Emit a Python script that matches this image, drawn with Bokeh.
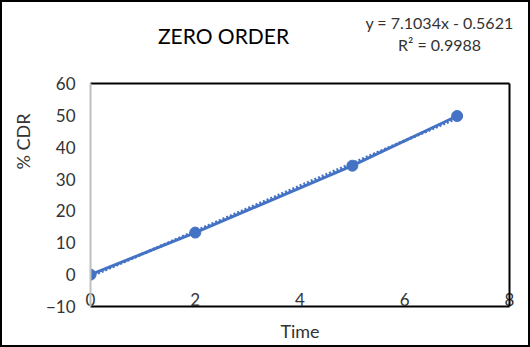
import numpy as np
from bokeh.plotting import figure
from bokeh.layouts import column, row
from bokeh.models import LinearAxis, Range1d, FixedTicker
from bokeh.core.properties import value
from bokeh.embed import file_html
from bokeh.resources import INLINE

# ---- data ----
time_vals = [0, 2, 5, 7]
cdr_vals = [0, 13.2, 34.2, 49.8]
x_ticks = [0, 2, 4, 6, 8]
y_ticks = [-10, 0, 10, 20, 30, 40, 50, 60]
chart_title = "ZERO ORDER"
x_title = "Time"
y_title = "% CDR"
eq_text = "y = 7.1034x - 0.5621"
r2_text = "R² = 0.9988"

BLUE = "#4472C4"
FONT = "Lato"
TXT = "#333333"

W, H = 526, 343
STRIP_W = 40
HEAD_H = 60
SPLIT = 330                   # canvas x where title box ends and equation box starts
RW = W - STRIP_W
MAIN_H = H - HEAD_H
FRAME_L, FRAME_R = 87, 507    # plot-area edges in canvas pixels


def blank(width, height, xr, yr):
    f = figure(width=width, height=height, x_range=xr, y_range=yr,
               output_backend="svg", toolbar_location=None,
               x_axis_location=None, y_axis_location=None, min_border=0)
    f.grid.visible = False
    f.outline_line_color = None
    f.border_fill_color = "white"
    return f


# ---- left strip with the value-axis title (pixel-space ranges) ----
strip = blank(STRIP_W, H, Range1d(0, STRIP_W), Range1d(H, 0))
strip.text(x=[20], y=[139], text=[y_title], angle=np.pi / 2, text_font=value(FONT),
           text_font_size="18px", text_color=TXT, text_align="center", text_baseline="middle")

# ---- header: chart title box + trendline-label box (pixel-space ranges) ----
tbox = blank(SPLIT - STRIP_W, HEAD_H, Range1d(STRIP_W, SPLIT), Range1d(HEAD_H, 0))
tbox.text(x=[221], y=[33], text=[chart_title], text_font=value(FONT), text_font_size="21px",
          text_color="black", text_align="center", text_baseline="middle")
ebox = blank(W - SPLIT, HEAD_H, Range1d(SPLIT, W), Range1d(HEAD_H, 0))
ebox.text(x=[437, 437], y=[20, 42], text=[eq_text, r2_text], text_font=value(FONT),
          text_font_size="16px", text_color=TXT, text_align="center", text_baseline="middle")
head = row(tbox, ebox, spacing=0)

# ---- main plot ----
p = figure(width=RW, height=MAIN_H, x_range=Range1d(0, 8), y_range=Range1d(-10, 60),
           output_backend="svg", toolbar_location=None,
           x_axis_location=None, y_axis_location=None,
           min_border_left=FRAME_L - STRIP_W, min_border_right=W - FRAME_R,
           min_border_top=81 - HEAD_H, min_border_bottom=39)
p.grid.visible = False
p.outline_line_color = None
p.background_fill_color = "white"
p.border_fill_color = "white"

# left (value) axis, gray line
ya = LinearAxis(ticker=FixedTicker(ticks=y_ticks))
ya.axis_line_color = "#BFBFBF"
ya.axis_line_width = 2
ya.major_tick_line_color = None
ya.minor_tick_line_color = None
ya.major_tick_out = 0
ya.major_tick_in = 0
ya.major_label_standoff = 15
ya.major_label_text_font = FONT
ya.major_label_text_font_size = "17px"
ya.major_label_text_color = TXT
p.add_layout(ya, "left")

# bottom axis: black line, labels just above it
xa = LinearAxis(ticker=FixedTicker(ticks=x_ticks))
xa.axis_line_color = "black"
xa.axis_line_width = 2
xa.major_tick_line_color = None
xa.minor_tick_line_color = None
xa.major_tick_out = 0
xa.major_tick_in = 0
xa.major_label_standoff = -14
xa.major_label_text_font = FONT
xa.major_label_text_font_size = "17px"
xa.major_label_text_color = TXT
xa.axis_label = x_title
xa.axis_label_text_font = FONT
xa.axis_label_text_font_size = "18px"
xa.axis_label_text_font_style = "normal"
xa.axis_label_text_color = TXT
xa.axis_label_standoff = 11
p.add_layout(xa, "below")

# top and right frame lines
for loc in ("above", "right"):
    ax = LinearAxis(ticker=FixedTicker(ticks=[]))
    ax.axis_line_color = "black"
    ax.axis_line_width = 2
    ax.major_tick_line_color = None
    ax.minor_tick_line_color = None
    ax.major_label_text_font_size = "0px"
    ax.major_tick_out = 0
    ax.major_tick_in = 0
    p.add_layout(ax, loc)

# data line + markers
p.line(time_vals, cdr_vals, line_color=BLUE, line_width=3)
p.scatter(time_vals, cdr_vals, size=11, fill_color=BLUE, line_color=BLUE)

# linear trendline (least squares on the data)
slope, intercept = np.polyfit(time_vals, cdr_vals, 1)
tx = [min(time_vals), max(time_vals)]
ty = [slope * v + intercept for v in tx]
p.line(tx, ty, line_color=BLUE, line_width=3, line_dash="2 2")

layout = row(strip, column(head, p, spacing=0), spacing=0)
layout.styles = {"border": "2px solid black"}

open("out.html", "w").write(file_html(layout, INLINE))
